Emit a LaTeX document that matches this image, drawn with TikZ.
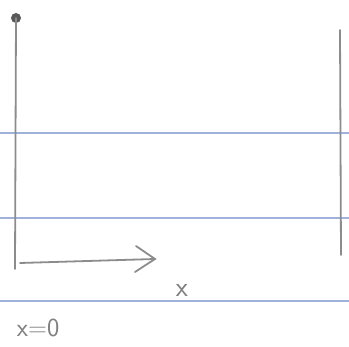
\documentclass[tikz,border=0pt]{standalone}
\usetikzlibrary{arrows.meta}
\definecolor{ruleblue}{RGB}{160,178,220}
\begin{document}
\begin{tikzpicture}[x=1pt,y=-1pt,
  pencil/.style={draw=black!45, line width=1.8pt, line cap=round},
  ruled/.style={draw=ruleblue, line width=1.6pt},
  hand/.style={text=black!50, font=\sffamily, inner sep=0pt}]
\useasboundingbox (0,0) rectangle (349,347);
% ruled lines
\draw[ruled] (0,133) -- (349,133);
\draw[ruled] (0,218) -- (349,218);
\draw[ruled] (0,301) -- (349,301);
% axes
\coordinate (top) at (16,18);
\coordinate (bot) at (15,269);
\coordinate (origin) at (20,263);
\coordinate (tip) at (155,259);
\fill[black!65] (top) circle (5pt);
\draw[pencil] (top) -- (bot);
\draw[pencil] (origin) -- (tip);
\draw[pencil] (136,246) -- (tip) -- (135,272);
% right line
\coordinate (rtop) at (340,30);
\coordinate (rbot) at (341,255);
\draw[pencil] (rtop) -- (rbot);
% labels
\node[hand, font=\sffamily\fontsize{28}{28}\selectfont] (xlab) at (182,290) {x};
\node[hand, font=\sffamily\fontsize{26}{26}\selectfont] (eq) at (38,328) {x=0};
\end{tikzpicture}
\end{document}
